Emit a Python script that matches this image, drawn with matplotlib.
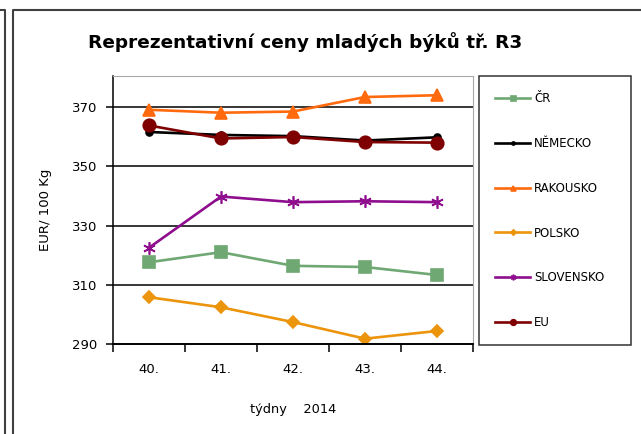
import matplotlib
matplotlib.use("Agg")
import matplotlib.pyplot as plt
from matplotlib.lines import Line2D

# data
weeks = ["40.", "41.", "42.", "43.", "44."]
cr = [317.6, 321.0, 316.4, 316.0, 313.3]
nemecko = [361.6, 360.6, 360.2, 358.7, 359.8]
rakousko = [369.1, 368.1, 368.5, 373.4, 374.0]
polsko = [305.8, 302.4, 297.4, 291.8, 294.4]
slovensko = [322.5, 339.8, 337.9, 338.2, 337.9]
eu = [363.8, 359.4, 359.9, 358.2, 358.0]
yticks = [290, 310, 330, 350, 370]

series = [
    ("ČR", cr, "#6FA873", "s", 8),
    ("NĚMECKO", nemecko, "#000000", "o", 5),
    ("RAKOUSKO", rakousko, "#FF6A0E", "^", 8),
    ("POLSKO", polsko, "#EB940C", "D", 6),
    ("SLOVENSKO", slovensko, "#8E0E8E", (6, 2, 0), 9),
    ("EU", eu, "#7E0000", "o", 9),
]

fig = plt.figure(figsize=(6.41, 4.34), dpi=100)
ax = fig.add_axes([113/641, 1-344/434, 360/641, 268/434])

x = list(range(len(weeks)))
for name, vals, col, mk, ms in series:
    ax.plot(x, vals, color=col, lw=1.9, marker=mk, ms=ms,
            mec=col, mfc=col, mew=1.2, label=name)

ax.set_xlim(-0.5, len(weeks) - 0.5)
ax.set_ylim(290, 380.5)
ax.set_yticks(yticks)
ax.set_yticklabels([str(v) for v in yticks], fontsize=9.5)
for v in yticks[1:]:
    ax.axhline(v, color="black", lw=1.1, zorder=0.5)

ax.set_xticks([i - 0.5 for i in range(len(weeks) + 1)])
ax.set_xticklabels([])
ax.set_xticks(x, minor=True)
ax.set_xticklabels(weeks, minor=True, fontsize=9.5)
ax.tick_params(axis="x", which="major", direction="out", length=6, width=1.1)
ax.tick_params(axis="x", which="minor", length=0, pad=14)
ax.tick_params(axis="y", direction="out", length=5, width=1.1, pad=6)

ax.spines["left"].set_linewidth(1.1)
ax.spines["bottom"].set_linewidth(1.4)
ax.spines["top"].set_color("#A8A8A8")
ax.spines["right"].set_color("#A8A8A8")

ax.set_ylabel("EUR/ 100 Kg", fontsize=9.5, labelpad=15)
ax.set_xlabel("týdny    2014", fontsize=9.3, labelpad=19)

fig.text(305/641, 1-42/434, "Reprezentativní ceny mladých býků tř. R3",
         ha="center", va="center", fontsize=13.3, fontweight="bold")

leg = fig.legend(loc="upper left", bbox_to_anchor=(479/641, 1-76/434-0.01, 152/641, 0.01),
                 mode="expand", fontsize=8.5, frameon=True, fancybox=False,
                 edgecolor="black", handlelength=3.0, handletextpad=0.3,
                 labelspacing=2.7, borderpad=1.35, borderaxespad=0,
                 markerscale=0.45)
leg.get_frame().set_linewidth(1.1)

# outer frame lines of the sheet
fig.add_artist(Line2D([0, 5/641, 5/641], [1-10/434, 1-10/434, 0],
                      transform=fig.transFigure, color="#404040", lw=1.5))
fig.add_artist(Line2D([13/641, 13/641, 1], [0, 1-10/434, 1-10/434],
                      transform=fig.transFigure, color="#404040", lw=1.5))

fig.savefig("out.png", dpi=100)
